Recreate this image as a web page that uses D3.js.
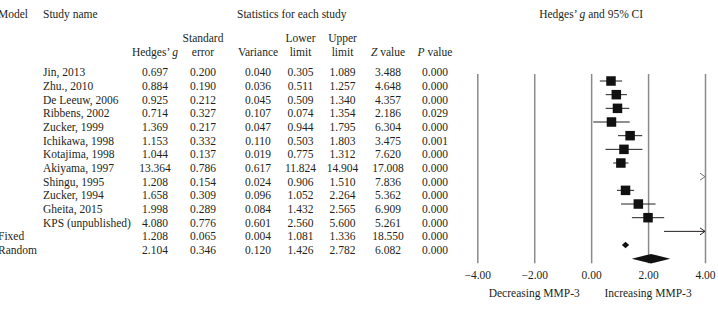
<!DOCTYPE html>
<html>
<head>
<meta charset="utf-8">
<script src="https://cdn.jsdelivr.net/npm/d3@7"></script>
<style>
  body { margin: 0; background: #fff; }
  svg { display: block; }
  text { font-family: "Liberation Serif", "Times New Roman", serif; font-size: 11.5px; fill: #231f20; }
</style>
</head>
<body>
<svg id="chart" width="718" height="309"></svg>
<script>
// data
const studies = ["Jin, 2013", "Zhu., 2010", "De Leeuw, 2006", "Ribbens, 2002", "Zucker, 1999",
  "Ichikawa, 1998", "Kotajima, 1998", "Akiyama, 1997", "Shingu, 1995", "Zucker, 1994",
  "Gheita, 2015", "KPS (unpublished)"]
const models = ["Fixed", "Random"]
const hedgesG = [0.697, 0.884, 0.925, 0.714, 1.369, 1.153, 1.044, 13.364, 1.208, 1.658, 1.998, 4.080, 1.208, 2.104]
const stdErr = [0.200, 0.190, 0.212, 0.327, 0.217, 0.332, 0.137, 0.786, 0.154, 0.309, 0.289, 0.776, 0.065, 0.346]
const variance = [0.040, 0.036, 0.045, 0.107, 0.047, 0.110, 0.019, 0.617, 0.024, 0.096, 0.084, 0.601, 0.004, 0.120]
const lowerLimit = [0.305, 0.511, 0.509, 0.074, 0.944, 0.503, 0.775, 11.824, 0.906, 1.052, 1.432, 2.560, 1.081, 1.426]
const upperLimit = [1.089, 1.257, 1.340, 1.354, 1.795, 1.803, 1.312, 14.904, 1.510, 2.264, 2.565, 5.600, 1.336, 2.782]
const zValue = [3.488, 4.648, 4.357, 2.186, 6.304, 3.475, 7.620, 17.008, 7.836, 5.362, 6.909, 5.261, 18.550, 6.082]
const pValue = [0.000, 0.000, 0.000, 0.029, 0.000, 0.001, 0.000, 0.000, 0.000, 0.000, 0.000, 0.000, 0.000, 0.000]
const xTicks = [-4, -2, 0, 2, 4]

const rows = hedgesG.map((g, i) => ({
  i: i,
  name: i < studies.length ? studies[i] : "",
  model: i < studies.length ? "" : models[i - studies.length],
  g: g, se: stdErr[i], v: variance[i], lo: lowerLimit[i], hi: upperLimit[i], z: zValue[i], p: pValue[i],
  summary: i >= studies.length
}))

const svg = d3.select('#chart')

// row scales (table text and plot rows are slightly offset in the original)
const yTable = d3.scaleLinear().domain([0, 13]).range([72.3, 250])
const yPlot = d3.scaleLinear().domain([0, 13]).range([81, 258.7])
const x = d3.scaleLinear().domain([-4, 4]).range([477.3, 705])

const f3 = d3.format('.3f')
const modelX = -2

// headers
svg.append('text').attr('x', modelX).attr('y', 14).attr('dy', '0.35em').text('Model')
svg.append('text').attr('x', 43).attr('y', 14).attr('dy', '0.35em').text('Study name')
svg.append('text').attr('x', 237).attr('y', 14).attr('dy', '0.35em').text('Statistics for each study')

const hTitle = svg.append('text').attr('x', x(0)).attr('y', 14).attr('dy', '0.35em')
  .attr('text-anchor', 'middle')
hTitle.append('tspan').text('Hedges\u2019 ')
hTitle.append('tspan').attr('font-style', 'italic').text('g')
hTitle.append('tspan').text(' and 95% CI')

const cols = [
  { key: 'g', cx: 155, top: null, bottom: [['Hedges\u2019 ', false], ['g', true]] },
  { key: 'se', cx: 203, top: 'Standard', bottom: [['error', false]] },
  { key: 'v', cx: 258, top: null, bottom: [['Variance', false]] },
  { key: 'lo', cx: 300.5, top: 'Lower', bottom: [['limit', false]] },
  { key: 'hi', cx: 342.5, top: 'Upper', bottom: [['limit', false]] },
  { key: 'z', cx: 388, top: null, bottom: [['Z', true], [' value', false]] },
  { key: 'p', cx: 435, top: null, bottom: [['P', true], [' value', false]] }
]

cols.forEach(c => {
  if (c.top) {
    svg.append('text').attr('x', c.cx).attr('y', 38).attr('dy', '0.35em')
      .attr('text-anchor', 'middle').text(c.top)
  }
  const t = svg.append('text').attr('x', c.cx).attr('y', 52).attr('dy', '0.35em')
    .attr('text-anchor', 'middle')
  c.bottom.forEach(part => {
    t.append('tspan').attr('font-style', part[1] ? 'italic' : 'normal').text(part[0])
  })
})

// table body
const body = svg.append('g')
body.selectAll('.model').data(rows).enter().append('text')
  .attr('x', modelX).attr('y', d => yTable(d.i)).attr('dy', '0.35em').text(d => d.model)
body.selectAll('.name').data(rows).enter().append('text')
  .attr('x', 43).attr('y', d => yTable(d.i)).attr('dy', '0.35em').text(d => d.name)

cols.forEach(c => {
  body.append('g').selectAll('text').data(rows).enter().append('text')
    .attr('x', c.cx).attr('y', d => yTable(d.i)).attr('dy', '0.35em')
    .attr('text-anchor', 'middle').text(d => f3(d[c.key]))
})

// forest plot axis / grid lines
const plotTop = 74
const plotBottom = 263.3
const xAxis = d3.axisBottom(x)
  .tickValues(xTicks)
  .tickSizeInner(-(plotBottom - plotTop))
  .tickSizeOuter(0)
  .tickPadding(8)
  .tickFormat(d => (d < 0 ? '\u2212' : '') + Math.abs(d).toFixed(2))

const ax = svg.append('g').attr('transform', `translate(0, ${plotBottom})`).call(xAxis)
ax.select('.domain').remove()
ax.selectAll('.tick line').attr('stroke', '#8a8a8a').attr('stroke-width', 1.5)
ax.selectAll('.tick text').attr('fill', '#231f20').attr('font-size', '11.5px')
  .attr('font-family', '"Liberation Serif", serif')

svg.append('text').attr('x', x(-2)).attr('y', 293).attr('dy', '0.35em')
  .attr('text-anchor', 'middle').text('Decreasing MMP-3')
svg.append('text').attr('x', x(2)).attr('y', 293).attr('dy', '0.35em')
  .attr('text-anchor', 'middle').text('Increasing MMP-3')

// study marks
const plot = svg.append('g')
const [xmin, xmax] = x.domain()
const studyRows = rows.filter(d => !d.summary)

// CI lines (clipped to the axis range)
plot.selectAll('.ci').data(studyRows.filter(d => d.lo < xmax)).enter().append('line')
  .attr('x1', d => x(Math.max(d.lo, xmin)))
  .attr('x2', d => x(Math.min(d.hi, xmax)))
  .attr('y1', d => yPlot(d.i)).attr('y2', d => yPlot(d.i))
  .attr('stroke', '#231f20').attr('stroke-width', 1)

// arrow heads where CI runs off the right edge
plot.selectAll('.arrow').data(studyRows.filter(d => d.hi > xmax)).enter().append('path')
  .attr('d', d => {
    const ax0 = x(xmax), ay = yPlot(d.i)
    return `M${ax0 - 5},${ay - 3.5}L${ax0},${ay}L${ax0 - 5},${ay + 3.5}`
  })
  .attr('fill', 'none')
  .attr('stroke', d => d.lo > xmax ? '#777' : '#231f20')
  .attr('stroke-width', 1)

// point estimate squares
const sq = 9.5
plot.selectAll('.sq').data(studyRows.filter(d => d.g <= xmax)).enter().append('rect')
  .attr('x', d => x(d.g) - sq / 2)
  .attr('y', d => yPlot(d.i) - sq / 2)
  .attr('width', sq).attr('height', sq)
  .attr('fill', '#111')

// summary diamonds
const diamondH = { Fixed: 3.2, Random: 4.8 }
plot.selectAll('.dia').data(rows.filter(d => d.summary)).enter().append('path')
  .attr('d', d => {
    const cy = yPlot(d.i), h = diamondH[d.model]
    return `M${x(d.lo)},${cy}L${x(d.g)},${cy - h}L${x(d.hi)},${cy}L${x(d.g)},${cy + h}Z`
  })
  .attr('fill', '#111')
</script>
</body>
</html>
